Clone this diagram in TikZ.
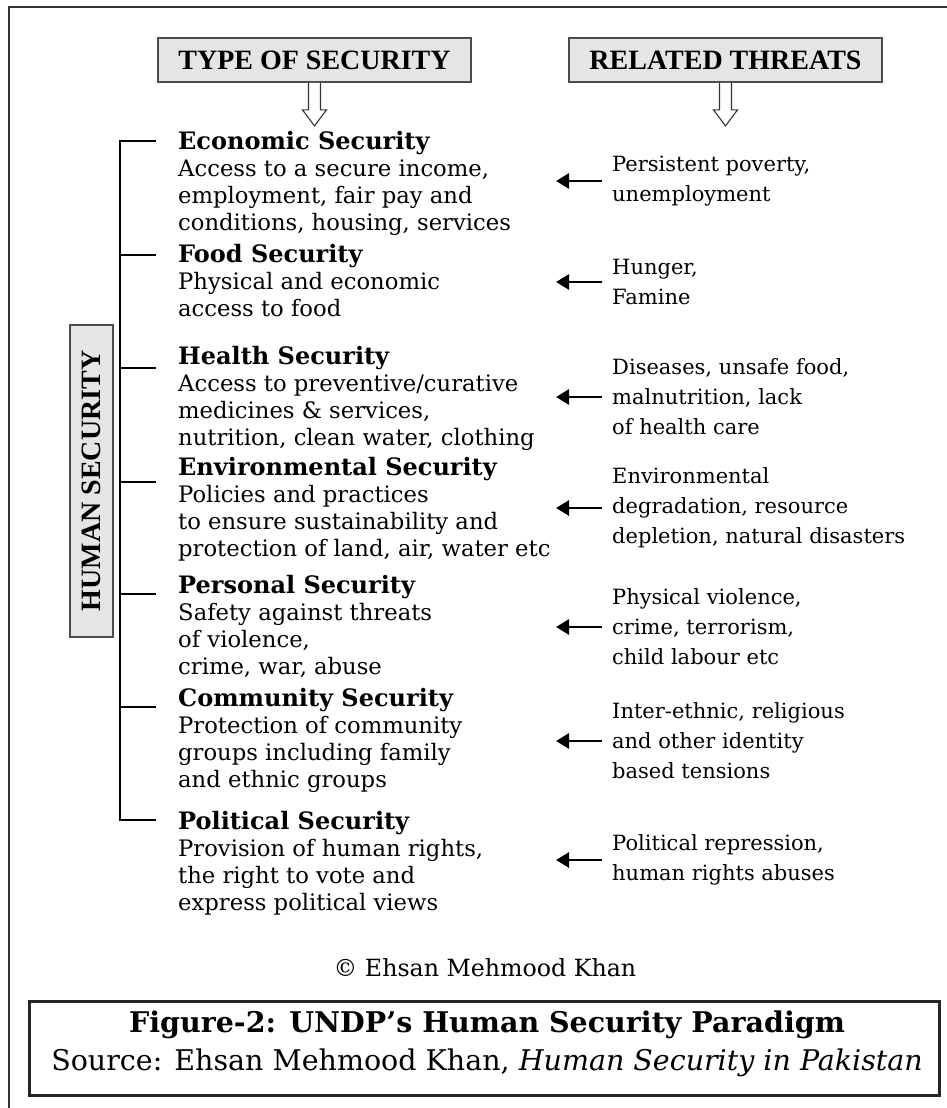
\documentclass[tikz,border=0pt]{standalone}
\usepackage{fontspec}
\setmainfont{DejaVu Serif}
\newfontfamily\hdfont{Liberation Serif}
\usetikzlibrary{arrows.meta,calc}
\newcommand{\ttl}[1]{{\bfseries\fontsize{24}{27}\selectfont #1}}
\begin{document}
\begin{tikzpicture}[x=1pt,y=-1pt,
  hdr/.style={draw=black!70, fill=black!10, line width=1.8pt, minimum width=313pt, minimum height=44pt, inner sep=0pt, font=\hdfont\bfseries\fontsize{28}{30}\selectfont},
  item/.style={anchor=north west, inner sep=0pt, align=left, font=\fontsize{22.7}{27}\selectfont},
  threat/.style={anchor=west, inner sep=0pt, align=left, font=\fontsize{21}{30}\selectfont},
  arr/.style={line width=2.8pt, -{Triangle[length=13pt,width=15pt]}},
  brk/.style={line width=2.5pt},
  hollow/.style={line width=1.1pt, draw=black!80, fill=white}]
\useasboundingbox (0,0) rectangle (947,1108);
% outer frame (only top and left edges visible)
\draw[line width=1.6pt, black!80] (9,1108) -- (9,7) -- (947,7);
% headers
\node[hdr] (h1) at (314.5,60) {TYPE OF SECURITY};
\node[hdr] (h2) at (725.5,60) {RELATED THREATS};
\foreach \h in {h1,h2}{
  \draw[hollow] ($(\h.south)+(-6,0)$) -- ($(\h.south)+(-6,27)$) -- ($(\h.south)+(-12,27)$)
    -- ($(\h.south)+(0,43)$) -- ($(\h.south)+(12,27)$) -- ($(\h.south)+(6,27)$) -- ($(\h.south)+(6,0)$);
}
% human security box
\node[draw=black!70, fill=black!10, line width=1.6pt, minimum width=312pt, minimum height=43pt, inner sep=0pt, rotate=90,
  font=\hdfont\bfseries\fontsize{28}{30}\selectfont] (hs) at (91.5,481) {HUMAN SECURITY};
% items
\node[item] (i1) at (178,131) {\ttl{Economic Security}\\Access to a secure income,\\employment, fair pay and\\conditions, housing, services};
\node[item] (i2) at (178,244) {\ttl{Food Security}\\Physical and economic\\access to food};
\node[item] (i3) at (178,346) {\ttl{Health Security}\\Access to preventive/curative\\medicines \& services,\\nutrition, clean water, clothing};
\node[item] (i4) at (178,457) {\ttl{Environmental Security}\\Policies and practices\\to ensure sustainability and\\protection of land, air, water etc};
\node[item] (i5) at (178,575) {\ttl{Personal Security}\\Safety against threats\\of violence,\\crime, war, abuse};
\node[item] (i6) at (178,688) {\ttl{Community Security}\\Protection of community\\groups including family\\and ethnic groups};
\node[item] (i7) at (178,811) {\ttl{Political Security}\\Provision of human rights,\\the right to vote and\\express political views};
% bracket
\coordinate (b1) at (120,141);
\coordinate (b7) at (120,820);
\draw[brk] (156,141) -- (b1) -- (b7) -- (156,820);
\foreach \y in {255,368,482,594,707}{\draw[brk] (120,\y) -- (156,\y);}
% threats
\node[threat] (t1) at (612,181) {Persistent poverty,\\unemployment};
\node[threat] (t2) at (612,282) {Hunger,\\Famine};
\node[threat] (t3) at (612,397) {Diseases, unsafe food,\\malnutrition, lack\\of health care};
\node[threat] (t4) at (612,508) {Environmental\\degradation, resource\\depletion, natural disasters};
\node[threat] (t5) at (612,627) {Physical violence,\\crime, terrorism,\\child labour etc};
\node[threat] (t6) at (612,741) {Inter-ethnic, religious\\and other identity\\based tensions};
\node[threat] (t7) at (612,860) {Political repression,\\human rights abuses};
\foreach \t in {t1,t2,t3,t4,t5,t6,t7}{
  \draw[arr] ([xshift=-10pt]\t.west) -- ([xshift=-56pt]\t.west);
}
% copyright
\node[font=\fontsize{23.7}{26}\selectfont] (cr) at (485,968) {© Ehsan Mehmood Khan};
% caption
\node[draw=black!85, line width=2.8pt, minimum width=910pt, minimum height=94pt, inner sep=0pt] (capbox) at (484.5,1048.5) {};
\node[inner sep=0pt, align=center, font=\fontsize{28.5}{38}\selectfont] (cap) at (487,1044)
  {\textbf{Figure-2: UNDP’s Human Security Paradigm}\\Source: Ehsan Mehmood Khan, \textit{Human Security in Pakistan}};
\end{tikzpicture}
\end{document}
